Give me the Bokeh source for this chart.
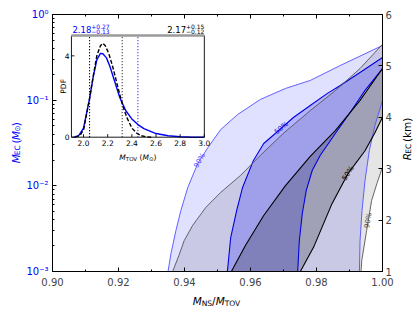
import math
import numpy as np
from bokeh.plotting import figure
from bokeh.layouts import row, column
from bokeh.models import (Range1d, LinearScale, LinearAxis, FixedTicker,
                          CustomJSTickFormatter, NumeralTickFormatter)
from bokeh.embed import file_html
from bokeh.resources import INLINE
from bokeh.core.properties import value

# ---------------- data ----------------
# blue contours: M_EC (Msun, left log axis) vs M_NS/M_TOV
b90_left_x = [0.9350, 0.9359, 0.9374, 0.9389, 0.9410, 0.9440, 0.9471, 0.9510, 0.9561, 0.9630, 0.9706, 0.9781, 0.9872, 1.0000]
b90_left_m = [0.00100, 0.00162, 0.00301, 0.00515, 0.00957, 0.0182, 0.0280, 0.0455, 0.0680, 0.102, 0.137, 0.170, 0.254, 0.435]
b90_right_x = [0.9930, 0.9932, 0.9938, 0.9947, 0.9960, 0.9977, 1.0000]
b90_right_m = [0.00100, 0.00230, 0.00515, 0.0115, 0.0258, 0.0506, 0.0991]
b50_left_x = [0.9530, 0.9540, 0.9558, 0.9576, 0.9609, 0.9640, 0.9682, 0.9730, 0.9781, 0.9833, 0.9872, 0.9941, 1.0000]
b50_left_m = [0.00100, 0.00249, 0.00515, 0.00957, 0.0198, 0.0312, 0.0431, 0.0628, 0.0866, 0.120, 0.148, 0.222, 0.315]
b50_right_x = [0.9743, 0.9748, 0.9757, 0.9769, 0.9787, 0.9811, 0.9857, 0.9902, 0.9947, 1.0000]
b50_right_m = [0.00100, 0.00230, 0.00475, 0.00883, 0.0151, 0.0226, 0.0408, 0.0718, 0.130, 0.234]

# black contours: R_EC (km, right linear axis) vs M_NS/M_TOV
k90_left_x = [0.9364, 0.9383, 0.9399, 0.9425, 0.9465, 0.9510, 0.9570, 0.9630, 0.9700, 0.9781, 0.9857, 0.9932, 1.0000]
k90_left_r = [1.00, 1.31, 1.60, 1.90, 2.25, 2.54, 2.87, 3.26, 3.69, 4.13, 4.52, 4.95, 5.42]
k90_right_x = [0.9935, 0.9937, 0.9952, 0.9967, 0.9983, 1.0000]
k90_right_r = [1.00, 1.21, 1.80, 2.38, 2.71, 3.03]
k50_left_x = [0.9542, 0.9585, 0.9640, 0.9706, 0.9781, 0.9857, 0.9932, 1.0000]
k50_left_r = [1.00, 1.51, 2.09, 2.67, 3.24, 3.74, 4.33, 4.95]
k50_right_x = [0.9751, 0.9791, 0.9847, 0.9896, 0.9947, 0.9977, 1.0000]
k50_right_r = [1.00, 1.47, 2.32, 2.91, 3.35, 3.70, 4.00]

# inset: PDF of M_TOV
tov_blue = [1.92, 1.96, 2.00, 2.05, 2.08, 2.11, 2.14, 2.16, 2.19, 2.22, 2.26, 2.30, 2.35, 2.40, 2.45, 2.50, 2.60, 2.70, 2.80, 2.90, 3.00]
pdf_blue = [0.0, 0.08, 0.45, 1.9, 2.95, 3.8, 4.12, 4.1, 3.9, 3.45, 2.7, 1.95, 1.3, 0.9, 0.62, 0.42, 0.18, 0.07, 0.02, 0.0, 0.0]
tov_black = [1.93, 1.97, 2.00, 2.05, 2.08, 2.11, 2.14, 2.16, 2.18, 2.21, 2.24, 2.27, 2.30, 2.33, 2.36, 2.40, 2.44, 2.48, 2.52, 2.56]
pdf_black = [0.0, 0.08, 0.35, 1.9, 3.0, 4.0, 4.5, 4.62, 4.5, 4.1, 3.5, 2.8, 2.1, 1.45, 0.95, 0.45, 0.2, 0.07, 0.02, 0.0]
blue_med, blue_hi, blue_lo = 2.18, 0.27, 0.13
black_med, black_hi, black_lo = 2.17, 0.15, 0.12

# ticks
x_ticks = [0.90, 0.92, 0.94, 0.96, 0.98, 1.00]
x_minor = [0.91, 0.93, 0.95, 0.97, 0.99]
m_ticks = [1e-3, 1e-2, 1e-1, 1.0]
r_ticks = [1, 2, 3, 4, 5, 6]
in_x_ticks = [2.0, 2.2, 2.4, 2.6, 2.8, 3.0]
in_y_ticks = [0, 4]

# contour label placement (x positions along the curves)
lab_b90_x, lab_b50_x, lab_k50_x, lab_k90_x = 0.9446, 0.9694, 0.9896, 0.9957

# ---------------- layout / style ----------------
FONT = "DejaVu Sans"
BLUE = "#0000ff"
ADV = {'0': .636, '1': .636, '2': .636, '3': .636, '4': .636, '5': .636, '6': .636,
       '7': .636, '8': .636, '9': .636, '.': .318, '+': .838, '\u2212': .838, '%': .95,
       'M': .863, 'E': .632, 'C': .698, 'N': .748, 'S': .635, 'T': .611, 'O': .787,
       'V': .684, 'R': .695, 'P': .603, 'D': .770, 'F': .575, ' ': .318, '(': .39,
       ')': .39, '/': .337, 'k': .579, 'm': .974, '\u2299': .838}


def tw(s, size):
    return sum(ADV.get(c, 0.6) for c in s) * size


# page pieces: (left label | main plot | right label) over a bottom label strip
LW, MW, RW = 23, 373, 18
TOPH, BOTH = 290, 21
BL, BR, BT, BB = 28, 14, 14, 19
FW, FH = MW - BL - BR, TOPH - BT - BB
X0, X1 = 0.90, 1.00
M0, M1 = 1e-3, 1.0
R0, R1 = 1.0, 6.0

IN_L, IN_R, IN_B, IN_T = 0.0574, 0.4601, 0.5226, 0.9183
TOV0, TOV1, PDF0, PDF1 = 1.9, 3.0, 0.0, 5.0
sx_in = FW * (IN_R - IN_L) / (TOV1 - TOV0)
sy_in = FH * (IN_T - IN_B) / (PDF1 - PDF0)
ix0 = TOV0 - FW * IN_L / sx_in
ix1 = TOV1 + FW * (1 - IN_R) / sx_in
iy0 = PDF0 - FH * IN_B / sy_in
iy1 = PDF1 + FH * (1 - IN_T) / sy_in

p = figure(width=MW, height=TOPH, x_range=Range1d(X0, X1), y_range=Range1d(M0, M1),
           y_axis_type="log", output_backend="svg", toolbar_location=None,
           min_border_left=BL, min_border_right=BR, min_border_top=BT, min_border_bottom=BB)
p.extra_y_ranges = {"r": Range1d(R0, R1), "iy": Range1d(iy0, iy1)}
p.extra_y_scales = {"r": LinearScale(), "iy": LinearScale()}
p.extra_x_ranges = {"ix": Range1d(ix0, ix1)}
p.extra_x_scales = {"ix": LinearScale()}
p.grid.visible = False
p.outline_line_color = "black"
p.outline_line_width = 1
p.background_fill_color = "white"
p.border_fill_color = "white"

# ---------------- bands ----------------
p.patch(b90_left_x + b90_right_x[::-1], b90_left_m + b90_right_m[::-1],
        fill_color=BLUE, fill_alpha=0.12, line_color=None)
p.patch(k90_left_x + k90_right_x[::-1], k90_left_r + k90_right_r[::-1],
        fill_color="black", fill_alpha=0.10, line_color=None, y_range_name="r")
p.patch(b50_left_x + b50_right_x[::-1], b50_left_m + b50_right_m[::-1],
        fill_color=BLUE, fill_alpha=0.20, line_color=None)
p.patch(k50_left_x + k50_right_x[::-1], k50_left_r + k50_right_r[::-1],
        fill_color="black", fill_alpha=0.20, line_color=None, y_range_name="r")

for xs, ys in ((b90_left_x, b90_left_m), (b90_right_x, b90_right_m)):
    p.line(xs, ys, line_color="#5050ff", line_width=0.9)
for xs, ys in ((b50_left_x, b50_left_m), (b50_right_x, b50_right_m)):
    p.line(xs, ys, line_color="#0000e0", line_width=1.1)
for xs, ys in ((k90_left_x, k90_left_r), (k90_right_x, k90_right_r)):
    p.line(xs, ys, line_color="#555555", line_width=0.9, y_range_name="r")
for xs, ys in ((k50_left_x, k50_left_r), (k50_right_x, k50_right_r)):
    p.line(xs, ys, line_color="black", line_width=1.1, y_range_name="r")


# contour labels
def clabel(xs, ys, xq, txt, color, logy):
    h = 0.0008
    yy = np.log10(ys) if logy else np.asarray(ys, float)
    per_unit_y = FH / (math.log10(M1) - math.log10(M0)) if logy else FH / (R1 - R0)
    per_unit_x = FW / (X1 - X0)
    yq = float(np.interp(xq, xs, yy))
    slope = (np.interp(xq + h, xs, yy) - np.interp(xq - h, xs, yy)) / (2 * h)
    ang = math.atan(slope * per_unit_y / per_unit_x)
    kw = {} if logy else {"y_range_name": "r"}
    p.text(x=[xq], y=[10 ** yq if logy else yq], text=[txt], angle=ang,
           text_align="center", text_baseline="middle", text_font=value(FONT),
           text_font_size="7px", text_color=color, **kw)


clabel(b90_left_x, b90_left_m, lab_b90_x, "90%", "#4040ff", True)
clabel(b50_left_x, b50_left_m, lab_b50_x, "50%", "#0000e0", True)
clabel(k50_right_x, k50_right_r, lab_k50_x, "50%", "black", False)
clabel(k90_right_x, k90_right_r, lab_k90_x, "90%", "#444444", False)

# top ticks (inward)
dec_px = FH / 3.0
p.segment(x0=x_ticks, y0=[M1] * len(x_ticks), x1=x_ticks,
          y1=[M1 * 10 ** (-4 / dec_px)] * len(x_ticks), line_color="black", line_width=1)
p.segment(x0=x_minor, y0=[M1] * len(x_minor), x1=x_minor,
          y1=[M1 * 10 ** (-2 / dec_px)] * len(x_minor), line_color="black", line_width=1)

# ---------------- inset ----------------
IK = dict(x_range_name="ix", y_range_name="iy")
p.quad(left=[TOV0], right=[TOV1], bottom=[PDF0], top=[PDF1], fill_color="white",
       line_color=None, **IK)
p.line(tov_blue, pdf_blue, line_color=BLUE, line_width=1.4, **IK)
p.line(tov_black, pdf_black, line_color="black", line_width=1.4, line_dash="4 2", **IK)
bl = [blue_med - blue_lo, blue_med + blue_hi]
kl = [black_med - black_lo, black_med + black_hi]
p.segment(x0=bl, y0=[PDF0] * 2, x1=bl, y1=[PDF1] * 2, line_color=BLUE,
          line_dash="1 2", line_width=1, **IK)
p.segment(x0=kl, y0=[PDF0] * 2, x1=kl, y1=[PDF1] * 2, line_color="black",
          line_dash="1 2", line_width=1, **IK)
p.multi_line(xs=[[TOV0, TOV0], [TOV0, TOV1], [TOV1, TOV1]],
             ys=[[PDF0, PDF1], [PDF0, PDF0], [PDF0, PDF1]],
             line_color="black", line_width=0.9, **IK)
p.line([TOV0, TOV1], [PDF1, PDF1], line_color="#9a9a9a", line_width=2.5, **IK)
p.segment(x0=in_x_ticks, y0=[PDF0] * len(in_x_ticks), x1=in_x_ticks,
          y1=[PDF0 + 3 / sy_in] * len(in_x_ticks), line_color="black", line_width=0.9, **IK)
p.segment(x0=[TOV0] * len(in_y_ticks), y0=in_y_ticks, x1=[TOV0 + 3 / sx_in] * len(in_y_ticks),
          y1=in_y_ticks, line_color="black", line_width=0.9, **IK)


def gtext(fig, x, y, s, size, color="black", italic=False, align="left",
          baseline="alphabetic", angle=0.0, **kw):
    fig.text(x=[x], y=[y], text=[s], text_font=value(FONT), text_font_size=f"{size}px",
             text_color=color, text_font_style="italic" if italic else "normal",
             text_align=align, text_baseline=baseline, angle=angle, **kw)


def rich(fig, pieces, cx, cy, vertical, color, sx=1.0, sy=1.0, **kw):
    """pieces: (text, size, italic, shift_px); positions in data units, sx/sy = px per unit"""
    total = sum(tw(t, s) for t, s, _, _ in pieces)
    pos = (cy - total / 2 / sy) if vertical else (cx - total / 2 / sx)
    for t, s, it, sh in pieces:
        body = t.lstrip(" ")
        lead = tw(t[:len(t) - len(body)], s)
        if vertical:
            gtext(fig, cx - sh / sx, pos + lead / sy, body, s, color, it,
                  angle=math.pi / 2, **kw)
            pos += tw(t, s) / sy
        else:
            gtext(fig, pos + lead / sx, cy + sh / sy, body, s, color, it, **kw)
            pos += tw(t, s) / sx


p.text(x=in_x_ticks, y=[PDF0 - 3 / sy_in] * len(in_x_ticks),
       text=[f"{t:.1f}" for t in in_x_ticks], text_font=value(FONT), text_font_size="7.5px",
       text_align="center", text_baseline="top", text_color="black", **IK)
p.text(x=[TOV0 - 2 / sx_in] * len(in_y_ticks), y=in_y_ticks,
       text=[str(t) for t in in_y_ticks], text_font=value(FONT), text_font_size="7.5px",
       text_align="right", text_baseline="middle", text_color="black", **IK)
gtext(p, TOV0 - 7.5 / sx_in, (PDF0 + PDF1) / 2, "PDF", 7.5, align="center",
      baseline="middle", angle=math.pi / 2, **IK)

# inset x label  M_TOV (M_sun)
rich(p, [("M", 7.5, True, 0), ("TOV", 5.5, False, -1.8), (" (", 7.5, False, 0),
         ("M", 7.5, True, 0), ("\u2299", 5.5, False, -1.8), (")", 7.5, False, 0)],
     (TOV0 + TOV1) / 2, PDF0 - 20.3 / sy_in, False, "black", sx_in, sy_in, **IK)


# inset titles
def title(med, hi, lo, color, right):
    main, sup, sub = f"{med:.2f}", f"+{hi:.2f}", f"\u2212{lo:.2f}"
    w = tw(main, 8.5) + max(tw(sup, 6), tw(sub, 6))
    x = (TOV1 - w / sx_in) if right else (TOV0 + 1 / sx_in)
    base = PDF1 + 5.5 / sy_in
    gtext(p, x, base, main, 8.5, color, **IK)
    x2 = x + tw(main, 8.5) / sx_in
    gtext(p, x2, base + 3.5 / sy_in, sup, 6, color, **IK)
    gtext(p, x2, base - 2.0 / sy_in, sub, 6, color, **IK)


title(blue_med, blue_hi, blue_lo, BLUE, False)
title(black_med, black_hi, black_lo, "black", True)

# ---------------- axes ----------------
xa = p.xaxis[0]
xa.ticker = FixedTicker(ticks=x_ticks, minor_ticks=x_minor)
xa.formatter = NumeralTickFormatter(format="0.00")
ya = p.yaxis[0]
m_minor = [k * 10.0 ** d for d in (-3, -2, -1) for k in range(2, 10)]
ya.ticker = FixedTicker(ticks=m_ticks, minor_ticks=m_minor)
ya.formatter = CustomJSTickFormatter(code="""
const e = Math.round(Math.log10(tick));
const sup = {'0':'\u2070','1':'\u00b9','2':'\u00b2','3':'\u00b3','-':'\u207b'};
return '10' + String(e).split('').map(c => sup[c]).join('');
""")
ra = LinearAxis(y_range_name="r", ticker=FixedTicker(ticks=r_ticks))
p.add_layout(ra, "right")

for ax in (xa, ya, ra):
    ax.major_tick_in = 4
    ax.major_tick_out = 0
    ax.minor_tick_in = 2
    ax.minor_tick_out = 0
    ax.major_label_text_font = FONT
    ax.major_label_text_font_size = "10px"
    ax.axis_line_color = "black"
    ax.axis_label = None
xa.major_label_standoff = 6
ya.major_label_standoff = 4
ra.major_label_standoff = 3
ya.major_label_text_color = BLUE
ra.minor_tick_in = 0


# ---------------- axis titles (separate label strips) ----------------
def strip(w, h):
    f = figure(width=w, height=h, x_range=Range1d(0, w), y_range=Range1d(0, h),
               x_axis_type=None, y_axis_type=None, toolbar_location=None,
               output_backend="svg", min_border=0)
    f.outline_line_color = None
    f.grid.visible = False
    f.background_fill_color = "white"
    f.border_fill_color = "white"
    return f


left = strip(LW, TOPH)
rich(left, [("M", 10.5, True, 0), ("EC", 7.5, False, -2.2), (" (", 10.5, False, 0),
            ("M", 10.5, True, 0), ("\u2299", 7.5, False, -2.2), (")", 10.5, False, 0)],
     15, TOPH - 145, True, BLUE)
right = strip(RW, TOPH)
rich(right, [("R", 10.5, True, 0), ("EC", 7.5, False, -2.2), (" (km)", 10.5, False, 0)],
     10, TOPH - 142, True, "black")
bottom = strip(LW + MW + RW, BOTH)
rich(bottom, [("M", 10.5, True, 0), ("NS", 7.5, False, -2.5), ("/", 10.5, False, 0),
              ("M", 10.5, True, 0), ("TOV", 7.5, False, -2.5)],
     LW + BL + FW * 0.4985, BOTH - 10, False, "black")

layout = column(row(left, p, right, spacing=0), bottom, spacing=0)
open("out.html", "w").write(file_html(layout, INLINE))
